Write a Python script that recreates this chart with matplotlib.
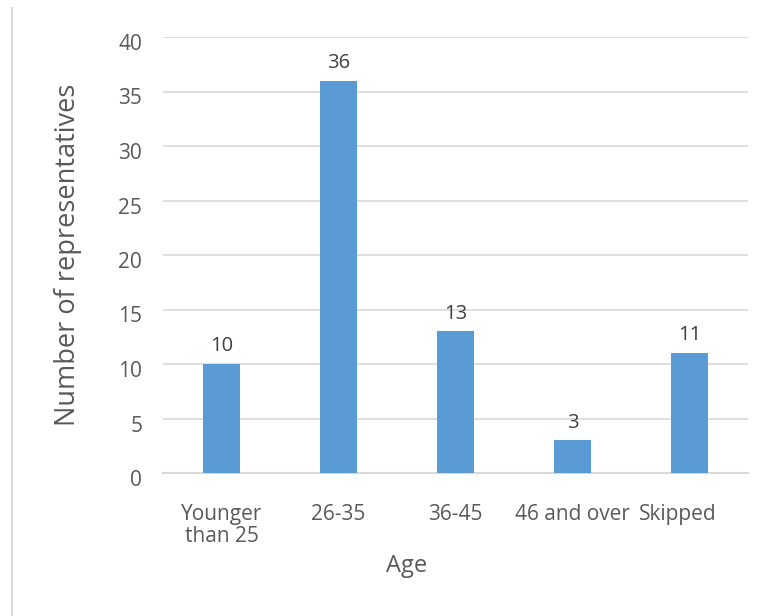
import matplotlib.pyplot as plt
from matplotlib.lines import Line2D
from matplotlib.transforms import ScaledTranslation

categories = ['Younger\nthan 25', '26-35', '36-45', '46 and over', 'Skipped']
counts = [10, 36, 13, 3, 11]

plt.rcParams['font.family'] = ['Open Sans', 'DejaVu Sans']
text_color = '#595959'
bar_color = '#5B9BD5'
grid_color = '#D9D9D9'

fig = plt.figure(figsize=(7.65, 6.16), dpi=100)
ax = fig.add_axes([163 / 765, 1 - 473 / 616, 585 / 765, 436 / 616])

x = range(len(categories))
bars = ax.bar(x, counts, width=0.32, color=bar_color, zorder=3)
for b, v in zip(bars, counts):
    ax.text(b.get_x() + b.get_width() / 2, v + 0.7, str(v), ha='center', va='bottom',
            fontsize=14.5, color='#404040')

ax.set_xlim(-0.5, len(categories) - 0.5)
ax.set_ylim(0, 40)
ax.set_yticks(range(0, 41, 5))
ax.set_xticks(list(x))
ax.set_xticklabels(categories, linespacing=1.1)
ax.tick_params(axis='both', length=0, labelsize=15, colors=text_color)
ax.tick_params(axis='y', pad=15)
ax.tick_params(axis='x', pad=22)

# nudge the y tick labels a little below their gridlines
shift = ScaledTranslation(0, -5 / 100, fig.dpi_scale_trans)
for lbl in ax.get_yticklabels():
    lbl.set_transform(lbl.get_transform() + shift)
# last category label sits a bit left of its bar
last = ax.get_xticklabels()[-1]
last.set_transform(last.get_transform() + ScaledTranslation(-12 / 100, 0, fig.dpi_scale_trans))

ax.yaxis.grid(True, color=grid_color, linewidth=1.2, zorder=0)
for s in ['top', 'right', 'left']:
    ax.spines[s].set_visible(False)
ax.spines['bottom'].set_color(grid_color)
ax.spines['bottom'].set_linewidth(1.5)

ax.set_xlabel('Age', fontsize=17, color=text_color)
ax.xaxis.set_label_coords((407 - 163) / 585, -0.185)
ax.set_ylabel('Number of representatives', fontsize=19.5, color=text_color)
ax.yaxis.set_label_coords((82 - 163) / 585, 0.5)

# thin frame edge on the left
fig.add_artist(Line2D([12 / 765, 12 / 765], [0, 1 - 8 / 616], transform=fig.transFigure,
                      color='#D9D9D9', linewidth=1.5))

fig.savefig('out.png', dpi=100)
